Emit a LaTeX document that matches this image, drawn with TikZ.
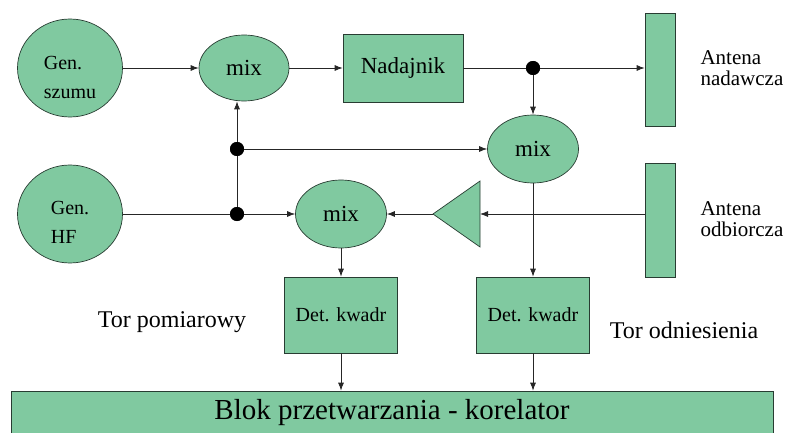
\documentclass[tikz,border=0pt]{standalone}
\usepackage{fontspec}
\setmainfont{Liberation Serif}
\usetikzlibrary{shapes.geometric,arrows.meta}
\definecolor{boxfill}{RGB}{128,201,160}
\definecolor{boxline}{RGB}{40,60,50}
\tikzset{
  blk/.style={draw=boxline, line width=0.7pt, fill=boxfill, inner sep=0pt, text=black},
  oval/.style={blk, ellipse},
  rbox/.style={blk, rectangle},
  jdot/.style={circle, fill=black, minimum size=14pt, inner sep=0pt},
  conn/.style={draw=black!85, line width=0.8pt},
  arr/.style={conn, -{Latex[length=8pt,width=6pt]}},
  fs/.style 2 args={font=\rmfamily\fontsize{#1}{#2}\selectfont},
}
\begin{document}
\begin{tikzpicture}[x=1pt,y=-1pt]
\useasboundingbox (0,0) rectangle (789,433);
% nodes
\node[oval, minimum width=105pt, minimum height=98pt] (gsz) at (70,68) {};
\node[fs={20}{29}, align=left] (gszt) at ([yshift=-9pt]gsz.center) {Gen.\\szumu};
\node[oval, minimum width=105pt, minimum height=98pt] (ghf) at (70,214) {};
\node[fs={20}{29}, align=left] (ghft) at ([yshift=-8pt]ghf.center) {Gen.\\HF};
\node[oval, minimum width=90pt, minimum height=66pt, fs={23}{26}] (mixA) at (244,68) {mix};
\node[rbox, minimum width=120pt, minimum height=68pt, fs={23}{26}] (nad) at (403,68) {Nadajnik};
\node[jdot] (d1) at (533,68) {};
\node[rbox, minimum width=30pt, minimum height=113pt] (antN) at (660,69.5) {};
\node[oval, minimum width=91pt, minimum height=68pt, fs={23}{26}] (mixB) at (533,149) {mix};
\node[jdot] (dA) at (237,149) {};
\node[jdot] (dB) at (237,214) {};
\node[oval, minimum width=91pt, minimum height=68pt, fs={23}{26}] (mixC) at (341,214) {mix};
\node[rbox, minimum width=30pt, minimum height=114pt] (antO) at (660,220) {};
% amplifier triangle
\coordinate (ampL) at (433,214);
\coordinate (ampR) at (480,214);
\draw[blk] (480,181) -- (480,247) -- (ampL) -- cycle;
\node[rbox, minimum width=113pt, minimum height=76pt, fs={20}{24}] (det1) at (341,315) {Det. kwadr};
\node[rbox, minimum width=113pt, minimum height=76pt, fs={20}{24}] (det2) at (533,315) {Det. kwadr};
\node[rbox, minimum width=762pt, minimum height=50pt] (blok) at (392,416) {};
\node[fs={29}{32}] (blokt) at (392,413) {Blok przetwarzania - korelator};
% labels
\node[fs={21}{21}, align=left, anchor=west] (tN) at (697,68) {Antena\\nadawcza};
\node[fs={21}{21}, align=left, anchor=west] (tO) at (697,219) {Antena\\odbiorcza};
\node[fs={24}{28}] (tp) at (172,322) {Tor pomiarowy};
\node[fs={24}{28}] (to) at (684,330) {Tor odniesienia};
% connectors
\draw[arr] (gsz.east) -- (mixA.west);
\draw[arr] (mixA.east) -- (nad.west);
\draw[conn] (nad.east) -- (d1.center);
\draw[arr] (d1.center) -- (antN.west |- d1);
\draw[arr] (d1.center) -- (mixB.north);
\draw[conn] (dB.center) -- (dA.center);
\draw[arr] (dA.center) -- (mixA.south -| dA);
\draw[arr] (dA.center) -- (mixB.west);
\draw[conn] (ghf.east) -- (dB.center);
\draw[arr] (dB.center) -- (mixC.west);
\draw[arr] (antO.west |- ampR) -- (ampR);
\draw[arr] (ampL) -- (mixC.east);
\draw[arr] (mixC.south) -- (det1.north);
\draw[arr] (mixB.south) -- (det2.north);
\draw[arr] (det1.south) -- (blok.north -| det1);
\draw[arr] (det2.south) -- (blok.north -| det2);
\node[jdot] at (d1) {};
\node[jdot] at (dA) {};
\node[jdot] at (dB) {};
\end{tikzpicture}
\end{document}
